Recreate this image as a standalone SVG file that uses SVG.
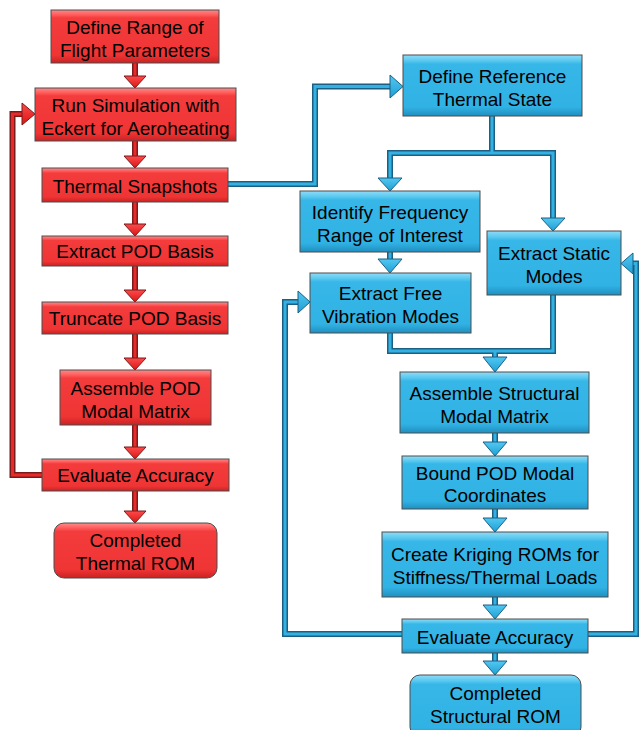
<svg xmlns="http://www.w3.org/2000/svg" width="639" height="730" viewBox="0 0 639 730">
<defs>
<linearGradient id="gR" x1="0" y1="0" x2="0" y2="1">
<stop offset="0" stop-color="#ff8a8a"/>
<stop offset="0.09" stop-color="#ff5c5c"/>
<stop offset="0.15" stop-color="#f43c3c"/>
<stop offset="0.85" stop-color="#ef3434"/>
<stop offset="1" stop-color="#c92222"/>
</linearGradient>
<linearGradient id="gB" x1="0" y1="0" x2="0" y2="1">
<stop offset="0" stop-color="#8fdcf7"/>
<stop offset="0.09" stop-color="#5cc9f0"/>
<stop offset="0.15" stop-color="#36b7e8"/>
<stop offset="0.85" stop-color="#31b2e4"/>
<stop offset="1" stop-color="#1f8fbf"/>
</linearGradient>
<linearGradient id="hR" x1="0" y1="0" x2="0" y2="1">
<stop offset="0" stop-color="#ff4a4a"/>
<stop offset="1" stop-color="#d81616"/>
</linearGradient>
<linearGradient id="hB" x1="0" y1="0" x2="0" y2="1">
<stop offset="0" stop-color="#52c8f2"/>
<stop offset="1" stop-color="#1e9fd4"/>
</linearGradient>
<style>
.rbox{fill:url(#gR);stroke:#4d4d4d;stroke-width:1}
.bbox{fill:url(#gB);stroke:#4d4d4d;stroke-width:1}
text{font-family:"Liberation Sans",Arial,sans-serif;font-size:19px;fill:#000;text-anchor:middle}
.ro{fill:none;stroke:#7a1a1a;stroke-width:6;stroke-linejoin:miter}
.ri{fill:none;stroke:#e82a2a;stroke-width:3;stroke-linejoin:miter}
.bo{fill:none;stroke:#1c5f82;stroke-width:6;stroke-linejoin:miter}
.bi{fill:none;stroke:#33b1e2;stroke-width:3;stroke-linejoin:miter}
.rh{fill:url(#hR);stroke:#7a1a1a;stroke-width:1}
.bh{fill:url(#hB);stroke:#1c5f82;stroke-width:1}
</style>
</defs>

<g id="connectors">
<!-- red vertical arrows -->
<g id="red-arrows">
<path class="ro" d="M135,63V77M135,141V156M135,202V224M135,266V290M135,334V358M135,425V447M135,491V511"/>
<path class="ri" d="M135,63V77M135,141V156M135,202V224M135,266V290M135,334V358M135,425V447M135,491V511"/>
<polygon class="rh" points="124,76 146,76 135,88"/>
<polygon class="rh" points="124,156 146,156 135,168"/>
<polygon class="rh" points="124,224 146,224 135,236"/>
<polygon class="rh" points="124,290 146,290 135,302"/>
<polygon class="rh" points="124,358 146,358 135,370"/>
<polygon class="rh" points="124,447 146,447 135,459"/>
<polygon class="rh" points="124,511 146,511 135,523"/>
<path class="ro" d="M42,475H12.5V114H23"/>
<path class="ri" d="M42,475H12.5V114H23"/>
<polygon class="rh" points="22,103 35,114 22,125"/>
</g>
<g id="blue-arrows">
<path class="bo" d="M228,184H315V86.5H391"/>
<path class="bi" d="M228,184H315V86.5H391"/>
<polygon class="bh" points="390,75 403,86.5 390,98"/>
<path class="bo" d="M492,116V153M390,180V153H553V218"/>
<path class="bi" d="M492,116V153M390,180V153H553V218"/>
<polygon class="bh" points="378,178 402,178 390,191"/>
<polygon class="bh" points="541,218 565,218 553,231"/>
<path class="bo" d="M390,252V260"/>
<path class="bi" d="M390,252V260"/>
<polygon class="bh" points="378,259 402,259 390,273"/>
<path class="bo" d="M390,333V351H553V295M495,351V358"/>
<path class="bi" d="M390,333V351H553V295M495,351V358"/>
<polygon class="bh" points="483,357 507,357 495,372"/>
<path class="bo" d="M495,433V443M495,509V519M495,597V606M495,653V662"/>
<path class="bi" d="M495,433V443M495,509V519M495,597V606M495,653V662"/>
<polygon class="bh" points="483,442 507,442 495,456"/>
<polygon class="bh" points="483,518 507,518 495,532"/>
<polygon class="bh" points="483,605 507,605 495,619"/>
<polygon class="bh" points="483,661 507,661 495,675"/>
<path class="bo" d="M402,634H285V302H299"/>
<path class="bi" d="M402,634H285V302H299"/>
<polygon class="bh" points="298,291 310,302 298,313"/>
<path class="bo" d="M588,634H636V263.5H632"/>
<path class="bi" d="M588,634H636V263.5H632"/>
<polygon class="bh" points="633,253 621,263.5 633,274"/>
</g>
</g>

<g id="n1"><rect class="rbox" x="51" y="10" width="168" height="53"/><text x="135" y="34">Define Range of</text><text x="135" y="57">Flight Parameters</text></g>
<g id="n2"><rect class="rbox" x="35" y="88" width="201" height="53"/><text x="135.5" y="112">Run Simulation with</text><text x="135.5" y="135">Eckert for Aeroheating</text></g>
<g id="n3"><rect class="rbox" x="42" y="168" width="186" height="34"/><text x="135" y="192.5">Thermal Snapshots</text></g>
<g id="n4"><rect class="rbox" x="42" y="236" width="186" height="30"/><text x="135" y="258">Extract POD Basis</text></g>
<g id="n5"><rect class="rbox" x="42" y="302" width="186" height="32"/><text x="135" y="325">Truncate POD Basis</text></g>
<g id="n6"><rect class="rbox" x="60" y="370" width="151" height="55"/><text x="135.5" y="394.5">Assemble POD</text><text x="135.5" y="417.5">Modal Matrix</text></g>
<g id="n7"><rect class="rbox" x="42" y="459" width="187" height="32"/><text x="135.5" y="482">Evaluate Accuracy</text></g>
<g id="n8"><rect class="rbox" x="54" y="523" width="163" height="55" rx="10"/><text x="135.5" y="547">Completed</text><text x="135.5" y="570">Thermal ROM</text></g>

<g id="b1"><rect class="bbox" x="403" y="55" width="179" height="61"/><text x="492.5" y="83">Define Reference</text><text x="492.5" y="106">Thermal State</text></g>
<g id="b2"><rect class="bbox" x="300" y="191" width="180" height="61"/><text x="390" y="219">Identify Frequency</text><text x="390" y="242">Range of Interest</text></g>
<g id="b3"><rect class="bbox" x="487" y="231" width="134" height="64"/><text x="554" y="260">Extract Static</text><text x="554" y="283">Modes</text></g>
<g id="b4"><rect class="bbox" x="310" y="273" width="161" height="60"/><text x="390.5" y="300">Extract Free</text><text x="390.5" y="323">Vibration Modes</text></g>
<g id="b5"><rect class="bbox" x="400" y="372" width="189" height="61"/><text x="494.5" y="400">Assemble Structural</text><text x="494.5" y="423">Modal Matrix</text></g>
<g id="b6"><rect class="bbox" x="402" y="456" width="186" height="53"/><text x="495" y="480">Bound POD Modal</text><text x="495" y="502">Coordinates</text></g>
<g id="b7"><rect class="bbox" x="382" y="532" width="226" height="65"/><text x="495" y="561">Create Kriging ROMs for</text><text x="495" y="584">Stiffness/Thermal Loads</text></g>
<g id="b8"><rect class="bbox" x="402" y="619" width="186" height="34"/><text x="495" y="643.5">Evaluate Accuracy</text></g>
<g id="b9"><rect class="bbox" x="410" y="675" width="171" height="62" rx="10"/><text x="495.5" y="700">Completed</text><text x="495.5" y="723">Structural ROM</text></g>
</svg>
